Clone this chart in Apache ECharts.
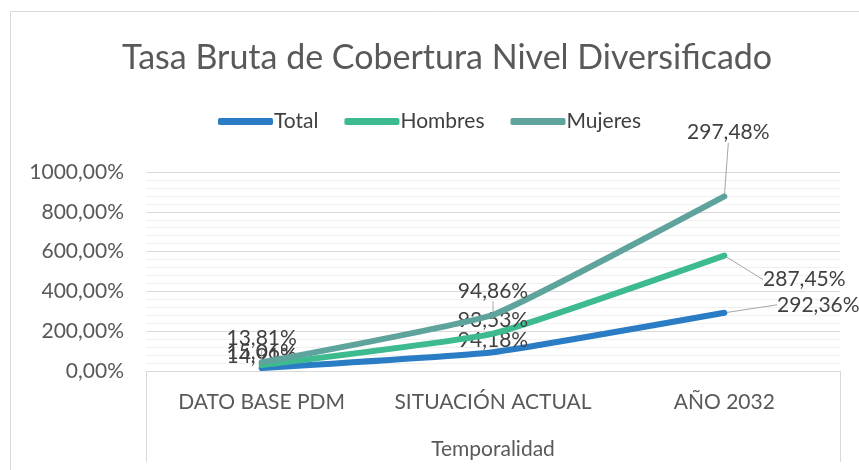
<!DOCTYPE html>
<html>
<head>
<meta charset="utf-8">
<script src="https://cdn.jsdelivr.net/npm/echarts@6/dist/echarts.min.js"></script>
<style>
html,body{margin:0;padding:0;background:#fff;}
#chart{width:859px;height:470px;}
</style>
</head>
<body>
<div id="chart"></div>
<script>
var categories = ['DATO BASE PDM', 'SITUACIÓN ACTUAL', 'AÑO 2032'];
var total = [14.91, 94.18, 292.36];
var hombres = [15.06, 93.53, 287.45];
var mujeres = [13.81, 94.86, 297.48];
var seriesNames = ['Total', 'Hombres', 'Mujeres'];
var colors = ['#2a7cc4', '#3dbb8f', '#5fa39d'];

var FONT = 'Lato';
function pct(v) { return v.toFixed(2).replace('.', ',') + '%'; }

// label offsets for the last point (leader-line labels)
var lastOffsets = [
  {dx: 94, dy: 4},
  {dx: 80, dy: 37},
  {dx: 4, dy: -40}
];
var labelDist = [-1, 0, 11];

function mk(i, data) {
  return {
    name: seriesNames[i],
    type: 'line',
    stack: 'all',
    data: data,
    smooth: 0.12,
    symbol: 'circle',
    symbolSize: 5,
    showSymbol: true,
    lineStyle: {width: 6, color: colors[i], cap: 'round'},
    itemStyle: {color: colors[i]},
    label: {
      show: true,
      position: 'top',
      distance: labelDist[i],
      formatter: function (p) { return pct(p.value); },
      color: '#404040',
      fontFamily: FONT,
      fontSize: 21
    },
    labelLine: {show: true, lineStyle: {color: '#a6a6a6', width: 1}},
    labelLayout: function (p) {
      if (p.dataIndex === 2) {
        var o = lastOffsets[i];
        return {dx: o.dx, dy: o.dy};
      }
      return {};
    },
    z: 3 + i
  };
}

var chart = echarts.init(document.getElementById('chart'));
chart.setOption({
  animation: false,
  backgroundColor: '#fff',
  color: colors,
  graphic: [{
    type: 'rect', shape: {x: 10.5, y: 11.5, width: 900, height: 500},
    style: {fill: 'none', stroke: '#d9d9d9', lineWidth: 1}, silent: true
  }],
  title: {
    text: 'Tasa Bruta de Cobertura Nivel Diversificado',
    left: 117, top: 36,
    textStyle: {fontFamily: FONT, fontSize: 34, fontWeight: 'normal', color: '#595959'}
  },
  legend: {
    top: 106, left: 'center',
    icon: 'roundRect',
    itemWidth: 55, itemHeight: 7, itemGap: 26,
    textStyle: {fontFamily: FONT, fontSize: 21, color: '#404040', padding: [0,0,0,-4]},
    data: seriesNames
  },
  grid: {left: 146, right: 19, top: 172, bottom: 99},
  xAxis: [{
    type: 'category',
    data: categories,
    boundaryGap: true,
    axisLine: {show: true, lineStyle: {color: '#d9d9d9'}},
    axisTick: {show: false},
    axisLabel: {interval: 0, fontFamily: FONT, fontSize: 21, color: '#595959', margin: 21},
    name: 'Temporalidad',
    nameLocation: 'middle',
    nameGap: 68,
    nameTextStyle: {fontFamily: FONT, fontSize: 21, color: '#595959'}
  }, {
    type: 'value', position: 'bottom', min: 0, max: 1, interval: 1,
    axisLine: {show: false},
    axisTick: {show: true, length: 91, lineStyle: {color: '#d9d9d9'}},
    axisLabel: {show: false},
    splitLine: {show: false}
  }],
  yAxis: {
    type: 'value', min: 0, max: 1000, interval: 200,
    axisLine: {show: false}, axisTick: {show: false},
    axisLabel: {
      fontFamily: FONT, fontSize: 21, color: '#595959', margin: 22,
      formatter: function (v) { return v.toFixed(2).replace('.', ',') + '%'; }
    },
    splitLine: {lineStyle: {color: '#d9d9d9', width: 1}},
    minorTick: {show: false, splitNumber: 5},
    minorSplitLine: {show: true, lineStyle: {color: '#f0f0f0', width: 1}}
  },
  series: [mk(0, total), mk(1, hombres), mk(2, mujeres)]
});
</script>
</body>
</html>
